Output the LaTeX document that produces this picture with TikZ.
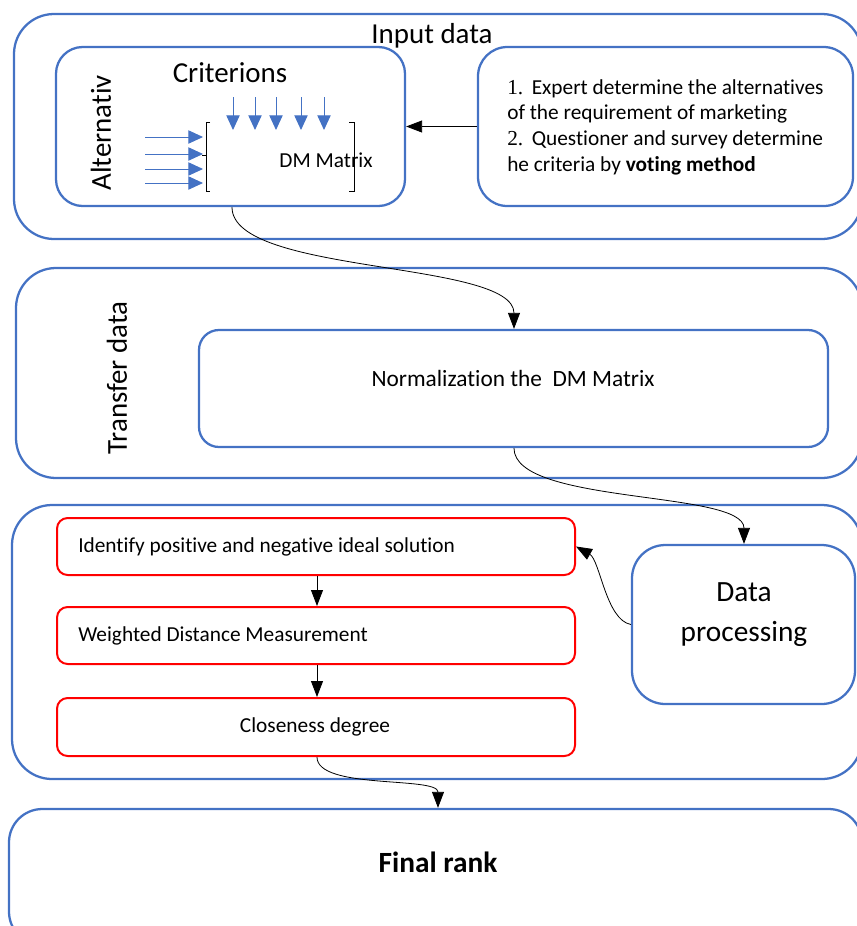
\documentclass[tikz,border=0pt]{standalone}
\usepackage{fontspec}
\setmainfont{Carlito}[Ligatures={NoCommon}]
\newfontfamily\numfont{Liberation Serif}
\usetikzlibrary{arrows.meta,fit,calc}
\definecolor{bluebd}{HTML}{4472C4}
\tikzset{
  bluebox/.style={draw=bluebd, line width=1.7pt, inner sep=0pt},
  redbox/.style={draw=red, line width=1.5pt, inner sep=0pt, rounded corners=8pt},
  conn/.style={draw=black, line width=0.6pt, -{Triangle[length=12pt,width=9pt]}},
  barrow/.style={draw=bluebd, line width=0.7pt, -{Triangle[length=11pt,width=10pt]}},
  bigtxt/.style={font=\fontsize{21.7}{26}\selectfont, inner sep=0pt},
  midtxt/.style={font=\fontsize{16}{19.3}\selectfont, inner sep=0pt},
  brk/.style={draw=black, line width=0.7pt}
}
\begin{document}
\begin{tikzpicture}[x=0.75pt,y=-0.75pt]
\useasboundingbox (0,0) rectangle (857,926);
\clip (0,0) rectangle (857,926);
% --- Input data
\node[bluebox, rounded corners=30pt, fit={(14,14) (862,239)}] (inbox) {};
\node[bluebox, rounded corners=20pt, fit={(56,47) (405,206)}] (alt) {};
\node[bluebox, rounded corners=22pt, fit={(478,47) (853,206)}] (expert) {};
\node[bigtxt] (intitle) at (432,36) {Input data};
\node[bigtxt] (crit) at (230,73) {Criterions};
\node[bigtxt, rotate=90] (alttxt) at (101,133) {Alternativ};
\node[midtxt] (dm) at (326,160) {DM Matrix};
\node[midtxt, anchor=west, align=left] (steps) at (507,127)
 {{\numfont 1.}\hspace{0.4em}Expert determine the alternatives\\
  of the requirement of marketing\\
  {\numfont 2.}\hspace{0.4em}Questioner and survey determine\\
  he criteria by \textbf{voting method}};
\foreach \x in {233,255,276,301,324} \draw[barrow] (\x,97) -- (\x,130);
\foreach \y in {137,154,169,183} \draw[barrow] (145,\y) -- (203,\y);
\draw[brk] (210,122) -- (206,122) -- (206,191) -- (210,191);
\draw[brk] (202,155) -- (206,155);
\draw[brk] (349,122) -- (354,122) -- (354,191) -- (349,191);
\draw[conn] (expert.west) -- (alt.east);
% --- Transfer data
\node[bluebox, rounded corners=30pt, fit={(16,268) (862,478)}] (trbox) {};
\node[bluebox, rounded corners=15pt, fit={(199,330) (828,447)}] (norm) {};
\node[bigtxt, rotate=90] (trtxt) at (117,378) {Transfer data};
\node[font=\fontsize{17.5}{21}\selectfont, inner sep=0pt] (normtxt) at (513,378) {Normalization the\ \ DM Matrix};
\draw[conn] (232,0 |- alt.south) .. controls (232,275) and (514,260) .. (514,0 |- norm.north);
% --- Data processing
\node[bluebox, rounded corners=30pt, fit={(12,505) (862,779)}] (prbox) {};
\node[redbox, fit={(57,518) (575,575)}] (r1) {};
\node[redbox, fit={(57,607) (575,664)}] (r2) {};
\node[redbox, fit={(57,698) (575,756)}] (r3) {};
\node[bluebox, rounded corners=25pt, fit={(632,545) (855,704)}] (dp) {};
\node[midtxt, anchor=west] (r1txt) at (78,547) {Identify positive and negative ideal solution};
\node[midtxt, anchor=west] (r2txt) at (78,636) {Weighted Distance Measurement};
\node[midtxt] (r3txt) at (315,727) {Closeness degree};
\node[font=\fontsize{22}{30}\selectfont, align=center, inner sep=0pt] (dptxt) at (744,615) {Data\\processing};
\draw[conn] (514,0 |- norm.south) .. controls (514,505) and (744,490) .. (744,0 |- dp.north);
\draw[conn] (dp.west) .. controls (606,620) and (600,560) .. (r1.east);
\draw[conn] (317,0 |- r1.south) -- (317,0 |- r2.north);
\draw[conn] (317,0 |- r2.south) -- (317,0 |- r3.north);
% --- Final rank
\node[bluebox, rounded corners=25pt, fit={(9,809) (862,945)}] (final) {};
\node[font=\fontsize{22}{26}\selectfont\bfseries, inner sep=0pt] (finaltxt) at (438,862) {Final rank};
\draw[conn] (317,0 |- r3.south) .. controls (317,790) and (438,776) .. (438,0 |- final.north);
\end{tikzpicture}
\end{document}
